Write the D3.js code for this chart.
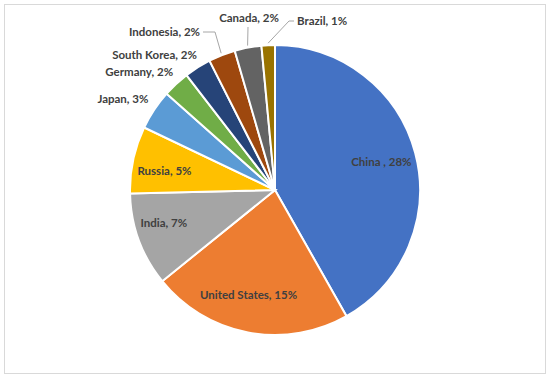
<!DOCTYPE html>
<meta charset="utf-8">
<style>
body { margin: 0; background: #fff; }
svg { display: block; font-family: Lato, "Noto Sans", sans-serif; }
.frame { fill: none; stroke: #d9d9d9; shape-rendering: crispEdges; }
.slice path { stroke: #fff; stroke-width: 2; }
.label { font-size: 11.5px; font-weight: bold; fill: #404040; }
.leader { fill: none; stroke: #a6a6a6; stroke-width: 1; }
</style>
<body>
<script src="https://cdn.jsdelivr.net/npm/d3@7"></script>
<script>

var countries = ["China ", "United States", "India", "Russia", "Japan", "Germany", "South Korea", "Indonesia", "Canada", "Brazil"],
    shares = [28, 15, 7, 5, 3, 2, 2, 2, 2, 1],
    colors = ["#4472c4", "#ed7d31", "#a5a5a5", "#ffc000", "#5b9bd5", "#70ad47", "#264478", "#9e480e", "#636363", "#997300"];

var width = 550,
    height = 378,
    radius = 145,
    cx = 275,
    cy = 190;

// labels drawn inside the pie (with a small nudge), the rest sit outside
var inside = {
  "China ": [0, 0],
  "United States": [-6, -3],
  "India": [-8, -5],
  "Russia": [-3, 4]
};
// labels pulled away with a leader line: label point relative to centre, elbow, anchor
var leaders = {
  "Indonesia": {pos: [-75, -158], elbow: [-60, -158], anchor: "end"},
  "Canada": {pos: [-26, -168], elbow: [-27, -163], anchor: "middle"},
  "Brazil": {pos: [22, -169], elbow: [14, -169], anchor: "start"}
};

var data = countries.map(function(c, i) { return {name: c, value: shares[i], color: colors[i]}; });

var pie = d3.pie()
    .sort(null)
    .value(function(d) { return d.value; });

var arc = d3.arc()
    .innerRadius(0)
    .outerRadius(radius);

var svg = d3.select("body").append("svg")
    .attr("width", width)
    .attr("height", height);

svg.append("rect")
    .attr("class", "frame")
    .attr("x", 4.5)
    .attr("y", 4.5)
    .attr("width", 541)
    .attr("height", 369);

var g = svg.append("g")
    .attr("transform", "translate(" + cx + "," + cy + ")");

var arcs = pie(data);

g.selectAll(".slice")
    .data(arcs)
  .enter().append("g")
    .attr("class", "slice")
  .append("path")
    .attr("d", arc)
    .style("fill", function(d) { return d.data.color; });

function polar(a, r) { return [Math.sin(a) * r, -Math.cos(a) * r]; }

arcs.forEach(function(d) {
  var mid = (d.startAngle + d.endAngle) / 2,
      text = d.data.name + ", " + d.data.value + "%",
      name = d.data.name,
      p, anchor;

  if (inside[name]) {
    p = polar(mid, 110);
    p = [p[0] + inside[name][0], p[1] + inside[name][1]];
    anchor = "middle";
  } else if (leaders[name]) {
    var l = leaders[name],
        s = polar(mid, 147),
        end = l.anchor === "end" ? [l.pos[0] + 3, l.pos[1]]
            : l.anchor === "start" ? [l.pos[0] - 3, l.pos[1]]
            : [l.elbow[0], l.pos[1] + 5];
    g.append("polyline")
        .attr("class", "leader")
        .attr("points", [s, l.elbow, end].map(function(q) { return q.join(","); }).join(" "));
    p = l.anchor === "middle" ? [l.pos[0], l.pos[1] - 4] : l.pos;
    anchor = l.anchor;
  } else {
    p = polar(mid + 0.038, 156);
    anchor = "end";
  }

  g.append("text")
      .attr("class", "label")
      .attr("x", p[0])
      .attr("y", p[1])
      .attr("dy", "0.35em")
      .attr("text-anchor", anchor)
      .text(text);
});

</script>
